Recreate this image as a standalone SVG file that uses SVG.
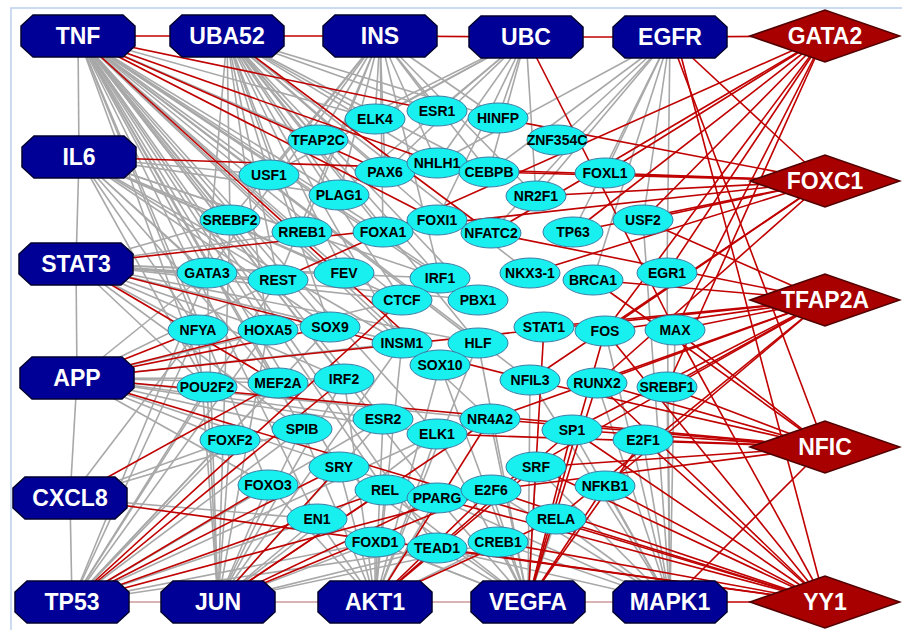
<svg xmlns="http://www.w3.org/2000/svg" width="902" height="630" viewBox="0 0 902 630">
<style>
.g{stroke:#A8A8A8;stroke-width:1.6}
.r{stroke:#C00000;stroke-width:1.6}
.p{stroke:#CC9A9A;stroke-width:1.6}
.hub{fill:#000096;stroke:#000030;stroke-width:1.5}
.dia{fill:#A80000;stroke:#500000;stroke-width:1.5}
.tf{fill:#18F0F0;stroke:#3A7CA5;stroke-width:1}
.ht{fill:#fff;font:bold 23px "Liberation Sans",Arial,sans-serif;text-anchor:middle}
.tt{fill:#000;font:bold 14px "Liberation Sans",Arial,sans-serif;text-anchor:middle}
</style>
<defs>
<polygon id="oct" class="hub" points="-45,-21 45,-21 57,-10 57,10 45,21 -45,21 -57,10 -57,-10"/>
<polygon id="dia" class="dia" points="-75,0 0,-26 75,0 0,26"/>
</defs>
<rect x="0" y="0" width="902" height="630" fill="#fff"/>
<rect x="11" y="8" width="900" height="630" fill="none" stroke="#BCD0EA" stroke-width="1.5"/>
<g id="edges">
<line class="p" x1="72" y1="602" x2="218" y2="602"/>
<line class="p" x1="218" y1="602" x2="375" y2="602"/>
<line class="p" x1="375" y1="602" x2="528" y2="602"/>
<line class="p" x1="528" y1="602" x2="670" y2="602"/>
<!-- TNF gray -->
<line class="g" x1="78" y1="36" x2="318" y2="140"/>
<line class="g" x1="78" y1="36" x2="375" y2="119"/>
<line class="g" x1="78" y1="36" x2="269" y2="175"/>
<line class="g" x1="78" y1="36" x2="339" y2="195"/>
<line class="g" x1="78" y1="36" x2="230" y2="220"/>
<line class="g" x1="78" y1="36" x2="302" y2="232"/>
<line class="g" x1="78" y1="36" x2="383" y2="232"/>
<line class="g" x1="78" y1="36" x2="207" y2="273"/>
<line class="g" x1="78" y1="36" x2="278" y2="280"/>
<line class="g" x1="78" y1="36" x2="344" y2="273"/>
<line class="g" x1="78" y1="36" x2="198" y2="330"/>
<line class="g" x1="78" y1="36" x2="268" y2="330"/>
<line class="g" x1="78" y1="36" x2="330" y2="327"/>
<line class="g" x1="78" y1="36" x2="402" y2="300"/>
<line class="g" x1="78" y1="36" x2="402" y2="343"/>
<line class="g" x1="78" y1="36" x2="440" y2="278"/>
<line class="g" x1="78" y1="36" x2="478" y2="343"/>
<line class="g" x1="78" y1="36" x2="278" y2="383"/>
<line class="g" x1="78" y1="36" x2="344" y2="379"/>
<line class="g" x1="78" y1="36" x2="383" y2="419"/>
<line class="g" x1="78" y1="36" x2="437" y2="434"/>
<line class="g" x1="78" y1="36" x2="302" y2="429"/>
<line class="g" x1="78" y1="36" x2="339" y2="467"/>
<line class="g" x1="78" y1="36" x2="385" y2="490"/>
<line class="g" x1="78" y1="36" x2="437" y2="498"/>
<line class="g" x1="78" y1="36" x2="530" y2="380"/>
<line class="g" x1="78" y1="36" x2="490" y2="419"/>
<line class="g" x1="78" y1="36" x2="478" y2="300"/>
<line class="g" x1="78" y1="36" x2="437" y2="548"/>
<line class="g" x1="78" y1="36" x2="317" y2="519"/>
<line class="g" x1="78" y1="36" x2="207" y2="387"/>
<line class="g" x1="78" y1="36" x2="268" y2="485"/>
<line class="g" x1="78" y1="36" x2="79" y2="157"/>
<!-- UBA52 gray -->
<line class="g" x1="227" y1="36" x2="318" y2="140"/>
<line class="g" x1="227" y1="36" x2="375" y2="119"/>
<line class="g" x1="227" y1="36" x2="437" y2="111"/>
<line class="g" x1="227" y1="36" x2="269" y2="175"/>
<line class="g" x1="227" y1="36" x2="385" y2="172"/>
<line class="g" x1="227" y1="36" x2="339" y2="195"/>
<line class="g" x1="227" y1="36" x2="383" y2="232"/>
<line class="g" x1="227" y1="36" x2="302" y2="232"/>
<line class="g" x1="227" y1="36" x2="344" y2="273"/>
<line class="g" x1="227" y1="36" x2="402" y2="300"/>
<line class="g" x1="227" y1="36" x2="402" y2="343"/>
<line class="g" x1="227" y1="36" x2="440" y2="278"/>
<line class="g" x1="227" y1="36" x2="437" y2="163"/>
<line class="g" x1="227" y1="36" x2="498" y2="118"/>
<line class="g" x1="227" y1="36" x2="489" y2="172"/>
<line class="g" x1="227" y1="36" x2="330" y2="327"/>
<line class="g" x1="227" y1="36" x2="268" y2="330"/>
<line class="g" x1="227" y1="36" x2="437" y2="220"/>
<line class="g" x1="227" y1="36" x2="278" y2="280"/>
<line class="g" x1="227" y1="36" x2="478" y2="300"/>
<line class="g" x1="227" y1="36" x2="230" y2="220"/>
<line class="g" x1="227" y1="36" x2="207" y2="273"/>
<line class="g" x1="227" y1="36" x2="530" y2="273"/>
<line class="g" x1="227" y1="36" x2="478" y2="343"/>
<!-- INS gray -->
<line class="g" x1="380" y1="36" x2="375" y2="119"/>
<line class="g" x1="380" y1="36" x2="318" y2="140"/>
<line class="g" x1="380" y1="36" x2="269" y2="175"/>
<line class="g" x1="380" y1="36" x2="385" y2="172"/>
<line class="g" x1="380" y1="36" x2="339" y2="195"/>
<line class="g" x1="380" y1="36" x2="230" y2="220"/>
<line class="g" x1="380" y1="36" x2="437" y2="163"/>
<line class="g" x1="380" y1="36" x2="498" y2="118"/>
<line class="g" x1="380" y1="36" x2="383" y2="232"/>
<line class="g" x1="380" y1="36" x2="207" y2="273"/>
<line class="g" x1="380" y1="36" x2="302" y2="232"/>
<line class="g" x1="380" y1="36" x2="489" y2="172"/>
<line class="g" x1="380" y1="36" x2="536" y2="196"/>
<line class="g" x1="380" y1="36" x2="440" y2="278"/>
<line class="g" x1="380" y1="36" x2="278" y2="280"/>
<line class="g" x1="380" y1="36" x2="437" y2="111"/>
<!-- UBC gray -->
<line class="g" x1="526" y1="37" x2="437" y2="111"/>
<line class="g" x1="526" y1="37" x2="437" y2="163"/>
<line class="g" x1="526" y1="37" x2="385" y2="172"/>
<line class="g" x1="526" y1="37" x2="375" y2="119"/>
<line class="g" x1="526" y1="37" x2="498" y2="118"/>
<line class="g" x1="526" y1="37" x2="489" y2="172"/>
<line class="g" x1="526" y1="37" x2="269" y2="175"/>
<line class="g" x1="526" y1="37" x2="318" y2="140"/>
<line class="g" x1="526" y1="37" x2="339" y2="195"/>
<line class="g" x1="526" y1="37" x2="437" y2="220"/>
<line class="g" x1="526" y1="37" x2="536" y2="196"/>
<!-- EGFR gray -->
<line class="g" x1="670" y1="37" x2="557" y2="140"/>
<line class="g" x1="670" y1="37" x2="489" y2="172"/>
<line class="g" x1="670" y1="37" x2="536" y2="196"/>
<line class="g" x1="670" y1="37" x2="605" y2="173"/>
<line class="g" x1="670" y1="37" x2="643" y2="220"/>
<line class="g" x1="670" y1="37" x2="437" y2="163"/>
<line class="g" x1="670" y1="37" x2="573" y2="232"/>
<line class="g" x1="670" y1="37" x2="667" y2="273"/>
<line class="g" x1="670" y1="37" x2="491" y2="233"/>
<line class="g" x1="670" y1="37" x2="593" y2="280"/>
<!-- IL6 gray -->
<line class="g" x1="79" y1="157" x2="76" y2="264"/>
<line class="g" x1="79" y1="157" x2="230" y2="220"/>
<line class="g" x1="79" y1="157" x2="207" y2="273"/>
<line class="g" x1="79" y1="157" x2="198" y2="330"/>
<line class="g" x1="79" y1="157" x2="278" y2="280"/>
<line class="g" x1="79" y1="157" x2="268" y2="330"/>
<line class="g" x1="79" y1="157" x2="302" y2="232"/>
<line class="g" x1="79" y1="157" x2="330" y2="327"/>
<line class="g" x1="79" y1="157" x2="344" y2="273"/>
<line class="g" x1="79" y1="157" x2="402" y2="300"/>
<line class="g" x1="79" y1="157" x2="269" y2="175"/>
<line class="g" x1="79" y1="157" x2="339" y2="195"/>
<line class="g" x1="79" y1="157" x2="402" y2="343"/>
<line class="g" x1="79" y1="157" x2="207" y2="387"/>
<line class="g" x1="79" y1="157" x2="440" y2="278"/>
<line class="g" x1="79" y1="157" x2="278" y2="383"/>
<!-- STAT3 gray -->
<line class="g" x1="76" y1="264" x2="77" y2="378"/>
<line class="g" x1="76" y1="264" x2="207" y2="273"/>
<line class="g" x1="76" y1="264" x2="198" y2="330"/>
<line class="g" x1="76" y1="264" x2="278" y2="280"/>
<line class="g" x1="76" y1="264" x2="230" y2="220"/>
<line class="g" x1="76" y1="264" x2="268" y2="330"/>
<line class="g" x1="76" y1="264" x2="344" y2="273"/>
<line class="g" x1="76" y1="264" x2="302" y2="232"/>
<line class="g" x1="76" y1="264" x2="402" y2="300"/>
<line class="g" x1="76" y1="264" x2="440" y2="278"/>
<line class="g" x1="76" y1="264" x2="402" y2="343"/>
<line class="g" x1="76" y1="264" x2="207" y2="387"/>
<line class="g" x1="76" y1="264" x2="344" y2="379"/>
<line class="g" x1="76" y1="264" x2="478" y2="300"/>
<line class="g" x1="76" y1="264" x2="478" y2="343"/>
<line class="g" x1="76" y1="264" x2="302" y2="429"/>
<!-- APP gray -->
<line class="g" x1="77" y1="378" x2="70" y2="498"/>
<line class="g" x1="77" y1="378" x2="278" y2="383"/>
<line class="g" x1="77" y1="378" x2="344" y2="379"/>
<line class="g" x1="77" y1="378" x2="230" y2="440"/>
<line class="g" x1="77" y1="378" x2="302" y2="429"/>
<line class="g" x1="77" y1="378" x2="207" y2="273"/>
<line class="g" x1="77" y1="378" x2="278" y2="280"/>
<line class="g" x1="77" y1="378" x2="402" y2="343"/>
<line class="g" x1="77" y1="378" x2="268" y2="485"/>
<line class="g" x1="77" y1="378" x2="383" y2="419"/>
<line class="g" x1="77" y1="378" x2="437" y2="434"/>
<line class="g" x1="77" y1="378" x2="402" y2="300"/>
<line class="g" x1="77" y1="378" x2="490" y2="419"/>
<line class="g" x1="77" y1="378" x2="437" y2="498"/>
<!-- CXCL8 gray -->
<line class="g" x1="70" y1="498" x2="72" y2="602"/>
<line class="g" x1="70" y1="498" x2="230" y2="440"/>
<line class="g" x1="70" y1="498" x2="317" y2="519"/>
<line class="g" x1="70" y1="498" x2="198" y2="330"/>
<line class="g" x1="70" y1="498" x2="302" y2="429"/>
<!-- TP53 gray -->
<line class="g" x1="72" y1="602" x2="230" y2="440"/>
<line class="g" x1="72" y1="602" x2="302" y2="429"/>
<line class="g" x1="72" y1="602" x2="317" y2="519"/>
<line class="g" x1="72" y1="602" x2="375" y2="542"/>
<line class="g" x1="72" y1="602" x2="278" y2="383"/>
<line class="g" x1="72" y1="602" x2="207" y2="387"/>
<line class="g" x1="72" y1="602" x2="198" y2="330"/>
<line class="g" x1="72" y1="602" x2="268" y2="330"/>
<line class="g" x1="72" y1="602" x2="383" y2="419"/>
<line class="g" x1="72" y1="602" x2="437" y2="434"/>
<line class="g" x1="72" y1="602" x2="437" y2="548"/>
<line class="g" x1="72" y1="602" x2="207" y2="273"/>
<line class="g" x1="72" y1="602" x2="330" y2="327"/>
<line class="g" x1="72" y1="602" x2="278" y2="280"/>
<!-- JUN gray -->
<line class="g" x1="218" y1="602" x2="230" y2="440"/>
<line class="g" x1="218" y1="602" x2="268" y2="485"/>
<line class="g" x1="218" y1="602" x2="302" y2="429"/>
<line class="g" x1="218" y1="602" x2="317" y2="519"/>
<line class="g" x1="218" y1="602" x2="375" y2="542"/>
<line class="g" x1="218" y1="602" x2="207" y2="387"/>
<line class="g" x1="218" y1="602" x2="198" y2="330"/>
<line class="g" x1="218" y1="602" x2="207" y2="273"/>
<line class="g" x1="218" y1="602" x2="268" y2="330"/>
<line class="g" x1="218" y1="602" x2="344" y2="379"/>
<line class="g" x1="218" y1="602" x2="383" y2="419"/>
<line class="g" x1="218" y1="602" x2="437" y2="548"/>
<line class="g" x1="218" y1="602" x2="230" y2="220"/>
<line class="g" x1="218" y1="602" x2="437" y2="434"/>
<line class="g" x1="218" y1="602" x2="498" y2="542"/>
<line class="g" x1="218" y1="602" x2="402" y2="343"/>
<!-- AKT1 gray -->
<line class="g" x1="375" y1="602" x2="375" y2="542"/>
<line class="g" x1="375" y1="602" x2="437" y2="548"/>
<line class="g" x1="375" y1="602" x2="317" y2="519"/>
<line class="g" x1="375" y1="602" x2="385" y2="490"/>
<line class="g" x1="375" y1="602" x2="437" y2="498"/>
<line class="g" x1="375" y1="602" x2="498" y2="542"/>
<line class="g" x1="375" y1="602" x2="339" y2="467"/>
<line class="g" x1="375" y1="602" x2="437" y2="434"/>
<line class="g" x1="375" y1="602" x2="383" y2="419"/>
<line class="g" x1="375" y1="602" x2="440" y2="365"/>
<line class="g" x1="375" y1="602" x2="268" y2="485"/>
<line class="g" x1="375" y1="602" x2="344" y2="379"/>
<line class="g" x1="375" y1="602" x2="402" y2="343"/>
<line class="g" x1="375" y1="602" x2="478" y2="343"/>
<line class="g" x1="375" y1="602" x2="302" y2="429"/>
<!-- VEGFA gray -->
<line class="g" x1="528" y1="602" x2="498" y2="542"/>
<line class="g" x1="528" y1="602" x2="437" y2="548"/>
<line class="g" x1="528" y1="602" x2="437" y2="498"/>
<line class="g" x1="528" y1="602" x2="556" y2="519"/>
<line class="g" x1="528" y1="602" x2="536" y2="467"/>
<line class="g" x1="528" y1="602" x2="385" y2="490"/>
<line class="g" x1="528" y1="602" x2="375" y2="542"/>
<line class="g" x1="528" y1="602" x2="437" y2="434"/>
<line class="g" x1="528" y1="602" x2="490" y2="419"/>
<line class="g" x1="528" y1="602" x2="478" y2="343"/>
<line class="g" x1="528" y1="602" x2="440" y2="365"/>
<line class="g" x1="528" y1="602" x2="530" y2="380"/>
<line class="g" x1="528" y1="602" x2="317" y2="519"/>
<line class="g" x1="528" y1="602" x2="339" y2="467"/>
<line class="g" x1="528" y1="602" x2="491" y2="490"/>
<!-- MAPK1 gray -->
<line class="g" x1="670" y1="602" x2="667" y2="387"/>
<line class="g" x1="670" y1="602" x2="643" y2="440"/>
<line class="g" x1="670" y1="602" x2="675" y2="330"/>
<line class="g" x1="670" y1="602" x2="667" y2="273"/>
<line class="g" x1="670" y1="602" x2="605" y2="486"/>
<line class="g" x1="670" y1="602" x2="556" y2="519"/>
<line class="g" x1="670" y1="602" x2="572" y2="430"/>
<line class="g" x1="670" y1="602" x2="536" y2="467"/>
<line class="g" x1="670" y1="602" x2="498" y2="542"/>
<line class="g" x1="670" y1="602" x2="437" y2="548"/>
<line class="g" x1="670" y1="602" x2="437" y2="498"/>
<line class="g" x1="670" y1="602" x2="491" y2="490"/>
<line class="g" x1="670" y1="602" x2="597" y2="383"/>
<line class="g" x1="670" y1="602" x2="605" y2="331"/>
<line class="g" x1="670" y1="602" x2="530" y2="380"/>
<line class="g" x1="670" y1="602" x2="643" y2="220"/>
<!-- red: hub chain -->
<line class="r" x1="78" y1="36" x2="227" y2="36"/>
<line class="r" x1="227" y1="36" x2="380" y2="36"/>
<line class="r" x1="380" y1="36" x2="526" y2="37"/>
<line class="r" x1="526" y1="37" x2="670" y2="37"/>
<line class="r" x1="670" y1="37" x2="825" y2="36"/>
<line class="r" x1="670" y1="602" x2="825" y2="602"/>
<!-- red: hubs -->
<line class="r" x1="78" y1="36" x2="437" y2="111"/>
<line class="r" x1="78" y1="36" x2="437" y2="163"/>
<line class="r" x1="78" y1="36" x2="385" y2="172"/>
<line class="r" x1="78" y1="36" x2="437" y2="220"/>
<line class="r" x1="78" y1="36" x2="440" y2="365"/>
<line class="r" x1="227" y1="36" x2="491" y2="233"/>
<line class="r" x1="526" y1="37" x2="675" y2="330"/>
<line class="r" x1="670" y1="37" x2="825" y2="181"/>
<line class="r" x1="670" y1="37" x2="825" y2="447"/>
<line class="r" x1="676" y1="37" x2="825" y2="602"/>
<line class="r" x1="79" y1="157" x2="825" y2="181"/>
<line class="r" x1="76" y1="264" x2="825" y2="181"/>
<line class="r" x1="76" y1="264" x2="530" y2="380"/>
<line class="r" x1="76" y1="264" x2="278" y2="383"/>
<line class="r" x1="77" y1="378" x2="825" y2="300"/>
<line class="r" x1="77" y1="378" x2="825" y2="447"/>
<line class="r" x1="77" y1="378" x2="825" y2="602"/>
<line class="r" x1="77" y1="378" x2="198" y2="330"/>
<line class="r" x1="77" y1="378" x2="268" y2="330"/>
<line class="r" x1="77" y1="378" x2="330" y2="327"/>
<line class="r" x1="70" y1="498" x2="278" y2="383"/>
<line class="r" x1="70" y1="498" x2="825" y2="602"/>
<line class="r" x1="72" y1="602" x2="339" y2="467"/>
<line class="r" x1="72" y1="602" x2="385" y2="490"/>
<line class="r" x1="72" y1="602" x2="344" y2="379"/>
<line class="r" x1="72" y1="602" x2="402" y2="300"/>
<line class="r" x1="72" y1="602" x2="491" y2="490"/>
<line class="r" x1="72" y1="602" x2="268" y2="485"/>
<line class="r" x1="218" y1="602" x2="339" y2="467"/>
<line class="r" x1="218" y1="602" x2="437" y2="498"/>
<line class="r" x1="218" y1="602" x2="490" y2="419"/>
<line class="r" x1="218" y1="602" x2="385" y2="490"/>
<line class="r" x1="218" y1="602" x2="491" y2="490"/>
<line class="r" x1="375" y1="602" x2="556" y2="519"/>
<line class="r" x1="375" y1="602" x2="536" y2="467"/>
<line class="r" x1="375" y1="602" x2="572" y2="430"/>
<line class="r" x1="375" y1="602" x2="490" y2="419"/>
<line class="r" x1="375" y1="602" x2="491" y2="490"/>
<line class="r" x1="528" y1="602" x2="643" y2="440"/>
<line class="r" x1="528" y1="602" x2="605" y2="486"/>
<line class="r" x1="528" y1="602" x2="572" y2="430"/>
<line class="r" x1="528" y1="602" x2="544" y2="327"/>
<line class="r" x1="528" y1="602" x2="605" y2="331"/>
<line class="r" x1="528" y1="602" x2="597" y2="383"/>
<line class="r" x1="670" y1="602" x2="825" y2="447"/>
<!-- red: GATA2 -->
<line class="r" x1="825" y1="36" x2="278" y2="280"/>
<line class="r" x1="825" y1="36" x2="491" y2="233"/>
<line class="r" x1="825" y1="36" x2="605" y2="173"/>
<line class="r" x1="825" y1="36" x2="643" y2="220"/>
<line class="r" x1="825" y1="36" x2="667" y2="273"/>
<line class="r" x1="825" y1="36" x2="605" y2="331"/>
<line class="r" x1="825" y1="36" x2="675" y2="330"/>
<line class="r" x1="825" y1="36" x2="667" y2="387"/>
<line class="r" x1="825" y1="36" x2="573" y2="232"/>
<!-- red: FOXC1 -->
<line class="r" x1="825" y1="181" x2="498" y2="118"/>
<line class="r" x1="825" y1="181" x2="605" y2="173"/>
<line class="r" x1="825" y1="181" x2="489" y2="172"/>
<line class="r" x1="825" y1="181" x2="536" y2="196"/>
<line class="r" x1="825" y1="181" x2="573" y2="232"/>
<line class="r" x1="825" y1="181" x2="643" y2="220"/>
<line class="r" x1="825" y1="181" x2="530" y2="273"/>
<line class="r" x1="825" y1="181" x2="605" y2="331"/>
<line class="r" x1="825" y1="181" x2="597" y2="383"/>
<line class="r" x1="825" y1="181" x2="530" y2="380"/>
<!-- red: TFAP2A -->
<line class="r" x1="825" y1="300" x2="491" y2="233"/>
<line class="r" x1="825" y1="300" x2="643" y2="220"/>
<line class="r" x1="825" y1="300" x2="593" y2="280"/>
<line class="r" x1="825" y1="300" x2="675" y2="330"/>
<line class="r" x1="825" y1="300" x2="605" y2="331"/>
<line class="r" x1="825" y1="300" x2="544" y2="327"/>
<line class="r" x1="825" y1="300" x2="597" y2="383"/>
<line class="r" x1="825" y1="300" x2="667" y2="387"/>
<line class="r" x1="825" y1="300" x2="490" y2="419"/>
<line class="r" x1="825" y1="300" x2="572" y2="430"/>
<line class="r" x1="825" y1="300" x2="491" y2="490"/>
<line class="r" x1="825" y1="300" x2="605" y2="486"/>
<line class="r" x1="825" y1="300" x2="556" y2="519"/>
<!-- red: NFIC -->
<line class="r" x1="825" y1="447" x2="667" y2="387"/>
<line class="r" x1="825" y1="447" x2="597" y2="383"/>
<line class="r" x1="825" y1="447" x2="530" y2="380"/>
<line class="r" x1="825" y1="447" x2="572" y2="430"/>
<line class="r" x1="825" y1="447" x2="643" y2="440"/>
<line class="r" x1="825" y1="447" x2="437" y2="434"/>
<line class="r" x1="825" y1="447" x2="490" y2="419"/>
<line class="r" x1="825" y1="447" x2="536" y2="467"/>
<line class="r" x1="825" y1="447" x2="491" y2="490"/>
<line class="r" x1="825" y1="447" x2="593" y2="280"/>
<line class="r" x1="825" y1="447" x2="675" y2="330"/>
<!-- red: YY1 -->
<line class="r" x1="825" y1="602" x2="536" y2="467"/>
<line class="r" x1="825" y1="602" x2="605" y2="486"/>
<line class="r" x1="825" y1="602" x2="556" y2="519"/>
<line class="r" x1="825" y1="602" x2="498" y2="542"/>
<line class="r" x1="825" y1="602" x2="643" y2="440"/>
<line class="r" x1="825" y1="602" x2="572" y2="430"/>
<line class="r" x1="825" y1="602" x2="437" y2="548"/>
<line class="r" x1="825" y1="602" x2="437" y2="498"/>
<line class="r" x1="825" y1="602" x2="597" y2="383"/>
<line class="r" x1="825" y1="602" x2="605" y2="331"/>
<line class="r" x1="825" y1="602" x2="491" y2="490"/>
<line class="r" x1="825" y1="602" x2="675" y2="330"/>
</g>
<g id="hubs">
<g id="n-TNF"><use href="#oct" x="78" y="36"/><text class="ht" x="78" y="44">TNF</text></g>
<g id="n-UBA52"><use href="#oct" x="227" y="36"/><text class="ht" x="227" y="44">UBA52</text></g>
<g id="n-INS"><use href="#oct" x="380" y="36"/><text class="ht" x="380" y="44">INS</text></g>
<g id="n-UBC"><use href="#oct" x="526" y="37"/><text class="ht" x="526" y="45">UBC</text></g>
<g id="n-EGFR"><use href="#oct" x="670" y="37"/><text class="ht" x="670" y="45">EGFR</text></g>
<g id="n-IL6"><use href="#oct" x="79" y="157"/><text class="ht" x="79" y="165">IL6</text></g>
<g id="n-STAT3"><use href="#oct" x="76" y="264"/><text class="ht" x="76" y="272">STAT3</text></g>
<g id="n-APP"><use href="#oct" x="77" y="378"/><text class="ht" x="77" y="386">APP</text></g>
<g id="n-CXCL8"><use href="#oct" x="70" y="498"/><text class="ht" x="70" y="506">CXCL8</text></g>
<g id="n-TP53"><use href="#oct" x="72" y="602"/><text class="ht" x="72" y="610">TP53</text></g>
<g id="n-JUN"><use href="#oct" x="218" y="602"/><text class="ht" x="218" y="610">JUN</text></g>
<g id="n-AKT1"><use href="#oct" x="375" y="602"/><text class="ht" x="375" y="610">AKT1</text></g>
<g id="n-VEGFA"><use href="#oct" x="528" y="602"/><text class="ht" x="528" y="610">VEGFA</text></g>
<g id="n-MAPK1"><use href="#oct" x="670" y="602"/><text class="ht" x="670" y="610">MAPK1</text></g>
</g>
<g id="diamonds">
<g id="n-GATA2"><use href="#dia" x="825" y="36"/><text class="ht" x="825" y="44">GATA2</text></g>
<g id="n-FOXC1"><use href="#dia" x="825" y="181"/><text class="ht" x="825" y="189">FOXC1</text></g>
<g id="n-TFAP2A"><use href="#dia" x="825" y="300"/><text class="ht" x="825" y="308">TFAP2A</text></g>
<g id="n-NFIC"><use href="#dia" x="825" y="447"/><text class="ht" x="825" y="455">NFIC</text></g>
<g id="n-YY1"><use href="#dia" x="825" y="602"/><text class="ht" x="825" y="610">YY1</text></g>
</g>
<g id="tfs">
<g id="n-ELK4"><ellipse class="tf" cx="375" cy="119" rx="30" ry="15"/><text class="tt" x="375" y="124">ELK4</text></g>
<g id="n-ESR1"><ellipse class="tf" cx="437" cy="111" rx="30" ry="15"/><text class="tt" x="437" y="116">ESR1</text></g>
<g id="n-HINFP"><ellipse class="tf" cx="498" cy="118" rx="30" ry="15"/><text class="tt" x="498" y="123">HINFP</text></g>
<g id="n-TFAP2C"><ellipse class="tf" cx="318" cy="140" rx="30" ry="15"/><text class="tt" x="318" y="145">TFAP2C</text></g>
<g id="n-ZNF354C"><ellipse class="tf" cx="557" cy="140" rx="30" ry="15"/><text class="tt" x="557" y="145">ZNF354C</text></g>
<g id="n-PAX6"><ellipse class="tf" cx="385" cy="172" rx="30" ry="15"/><text class="tt" x="385" y="177">PAX6</text></g>
<g id="n-NHLH1"><ellipse class="tf" cx="437" cy="163" rx="30" ry="15"/><text class="tt" x="437" y="168">NHLH1</text></g>
<g id="n-CEBPB"><ellipse class="tf" cx="489" cy="172" rx="30" ry="15"/><text class="tt" x="489" y="177">CEBPB</text></g>
<g id="n-USF1"><ellipse class="tf" cx="269" cy="175" rx="30" ry="15"/><text class="tt" x="269" y="180">USF1</text></g>
<g id="n-PLAG1"><ellipse class="tf" cx="339" cy="195" rx="30" ry="15"/><text class="tt" x="339" y="200">PLAG1</text></g>
<g id="n-NR2F1"><ellipse class="tf" cx="536" cy="196" rx="30" ry="15"/><text class="tt" x="536" y="201">NR2F1</text></g>
<g id="n-FOXL1"><ellipse class="tf" cx="605" cy="173" rx="30" ry="15"/><text class="tt" x="605" y="178">FOXL1</text></g>
<g id="n-FOXI1"><ellipse class="tf" cx="437" cy="220" rx="30" ry="15"/><text class="tt" x="437" y="225">FOXI1</text></g>
<g id="n-FOXA1"><ellipse class="tf" cx="383" cy="232" rx="30" ry="15"/><text class="tt" x="383" y="237">FOXA1</text></g>
<g id="n-RREB1"><ellipse class="tf" cx="302" cy="232" rx="30" ry="15"/><text class="tt" x="302" y="237">RREB1</text></g>
<g id="n-NFATC2"><ellipse class="tf" cx="491" cy="233" rx="30" ry="15"/><text class="tt" x="491" y="238">NFATC2</text></g>
<g id="n-TP63"><ellipse class="tf" cx="573" cy="232" rx="30" ry="15"/><text class="tt" x="573" y="237">TP63</text></g>
<g id="n-USF2"><ellipse class="tf" cx="643" cy="220" rx="30" ry="15"/><text class="tt" x="643" y="225">USF2</text></g>
<g id="n-SREBF2"><ellipse class="tf" cx="230" cy="220" rx="30" ry="15"/><text class="tt" x="230" y="225">SREBF2</text></g>
<g id="n-GATA3"><ellipse class="tf" cx="207" cy="273" rx="30" ry="15"/><text class="tt" x="207" y="278">GATA3</text></g>
<g id="n-REST"><ellipse class="tf" cx="278" cy="280" rx="30" ry="15"/><text class="tt" x="278" y="285">REST</text></g>
<g id="n-FEV"><ellipse class="tf" cx="344" cy="273" rx="30" ry="15"/><text class="tt" x="344" y="278">FEV</text></g>
<g id="n-IRF1"><ellipse class="tf" cx="440" cy="278" rx="30" ry="15"/><text class="tt" x="440" y="283">IRF1</text></g>
<g id="n-NKX3-1"><ellipse class="tf" cx="530" cy="273" rx="30" ry="15"/><text class="tt" x="530" y="278">NKX3-1</text></g>
<g id="n-BRCA1"><ellipse class="tf" cx="593" cy="280" rx="30" ry="15"/><text class="tt" x="593" y="285">BRCA1</text></g>
<g id="n-EGR1"><ellipse class="tf" cx="667" cy="273" rx="30" ry="15"/><text class="tt" x="667" y="278">EGR1</text></g>
<g id="n-CTCF"><ellipse class="tf" cx="402" cy="300" rx="30" ry="15"/><text class="tt" x="402" y="305">CTCF</text></g>
<g id="n-PBX1"><ellipse class="tf" cx="478" cy="300" rx="30" ry="15"/><text class="tt" x="478" y="305">PBX1</text></g>
<g id="n-NFYA"><ellipse class="tf" cx="198" cy="330" rx="30" ry="15"/><text class="tt" x="198" y="335">NFYA</text></g>
<g id="n-HOXA5"><ellipse class="tf" cx="268" cy="330" rx="30" ry="15"/><text class="tt" x="268" y="335">HOXA5</text></g>
<g id="n-SOX9"><ellipse class="tf" cx="330" cy="327" rx="30" ry="15"/><text class="tt" x="330" y="332">SOX9</text></g>
<g id="n-INSM1"><ellipse class="tf" cx="402" cy="343" rx="30" ry="15"/><text class="tt" x="402" y="348">INSM1</text></g>
<g id="n-HLF"><ellipse class="tf" cx="478" cy="343" rx="30" ry="15"/><text class="tt" x="478" y="348">HLF</text></g>
<g id="n-SOX10"><ellipse class="tf" cx="440" cy="365" rx="30" ry="15"/><text class="tt" x="440" y="370">SOX10</text></g>
<g id="n-STAT1"><ellipse class="tf" cx="544" cy="327" rx="30" ry="15"/><text class="tt" x="544" y="332">STAT1</text></g>
<g id="n-FOS"><ellipse class="tf" cx="605" cy="331" rx="30" ry="15"/><text class="tt" x="605" y="336">FOS</text></g>
<g id="n-MAX"><ellipse class="tf" cx="675" cy="330" rx="30" ry="15"/><text class="tt" x="675" y="335">MAX</text></g>
<g id="n-POU2F2"><ellipse class="tf" cx="207" cy="387" rx="30" ry="15"/><text class="tt" x="207" y="392">POU2F2</text></g>
<g id="n-MEF2A"><ellipse class="tf" cx="278" cy="383" rx="30" ry="15"/><text class="tt" x="278" y="388">MEF2A</text></g>
<g id="n-IRF2"><ellipse class="tf" cx="344" cy="379" rx="30" ry="15"/><text class="tt" x="344" y="384">IRF2</text></g>
<g id="n-NFIL3"><ellipse class="tf" cx="530" cy="380" rx="30" ry="15"/><text class="tt" x="530" y="385">NFIL3</text></g>
<g id="n-RUNX2"><ellipse class="tf" cx="597" cy="383" rx="30" ry="15"/><text class="tt" x="597" y="388">RUNX2</text></g>
<g id="n-SREBF1"><ellipse class="tf" cx="667" cy="387" rx="30" ry="15"/><text class="tt" x="667" y="392">SREBF1</text></g>
<g id="n-ESR2"><ellipse class="tf" cx="383" cy="419" rx="30" ry="15"/><text class="tt" x="383" y="424">ESR2</text></g>
<g id="n-ELK1"><ellipse class="tf" cx="437" cy="434" rx="30" ry="15"/><text class="tt" x="437" y="439">ELK1</text></g>
<g id="n-NR4A2"><ellipse class="tf" cx="490" cy="419" rx="30" ry="15"/><text class="tt" x="490" y="424">NR4A2</text></g>
<g id="n-SP1"><ellipse class="tf" cx="572" cy="430" rx="30" ry="15"/><text class="tt" x="572" y="435">SP1</text></g>
<g id="n-E2F1"><ellipse class="tf" cx="643" cy="440" rx="30" ry="15"/><text class="tt" x="643" y="445">E2F1</text></g>
<g id="n-SPIB"><ellipse class="tf" cx="302" cy="429" rx="30" ry="15"/><text class="tt" x="302" y="434">SPIB</text></g>
<g id="n-FOXF2"><ellipse class="tf" cx="230" cy="440" rx="30" ry="15"/><text class="tt" x="230" y="445">FOXF2</text></g>
<g id="n-SRY"><ellipse class="tf" cx="339" cy="467" rx="30" ry="15"/><text class="tt" x="339" y="472">SRY</text></g>
<g id="n-SRF"><ellipse class="tf" cx="536" cy="467" rx="30" ry="15"/><text class="tt" x="536" y="472">SRF</text></g>
<g id="n-FOXO3"><ellipse class="tf" cx="268" cy="485" rx="30" ry="15"/><text class="tt" x="268" y="490">FOXO3</text></g>
<g id="n-REL"><ellipse class="tf" cx="385" cy="490" rx="30" ry="15"/><text class="tt" x="385" y="495">REL</text></g>
<g id="n-PPARG"><ellipse class="tf" cx="437" cy="498" rx="30" ry="15"/><text class="tt" x="437" y="503">PPARG</text></g>
<g id="n-E2F6"><ellipse class="tf" cx="491" cy="490" rx="30" ry="15"/><text class="tt" x="491" y="495">E2F6</text></g>
<g id="n-NFKB1"><ellipse class="tf" cx="605" cy="486" rx="30" ry="15"/><text class="tt" x="605" y="491">NFKB1</text></g>
<g id="n-EN1"><ellipse class="tf" cx="317" cy="519" rx="30" ry="15"/><text class="tt" x="317" y="524">EN1</text></g>
<g id="n-RELA"><ellipse class="tf" cx="556" cy="519" rx="30" ry="15"/><text class="tt" x="556" y="524">RELA</text></g>
<g id="n-FOXD1"><ellipse class="tf" cx="375" cy="542" rx="30" ry="15"/><text class="tt" x="375" y="547">FOXD1</text></g>
<g id="n-TEAD1"><ellipse class="tf" cx="437" cy="548" rx="30" ry="15"/><text class="tt" x="437" y="553">TEAD1</text></g>
<g id="n-CREB1"><ellipse class="tf" cx="498" cy="542" rx="30" ry="15"/><text class="tt" x="498" y="547">CREB1</text></g>
</g>
</svg>
